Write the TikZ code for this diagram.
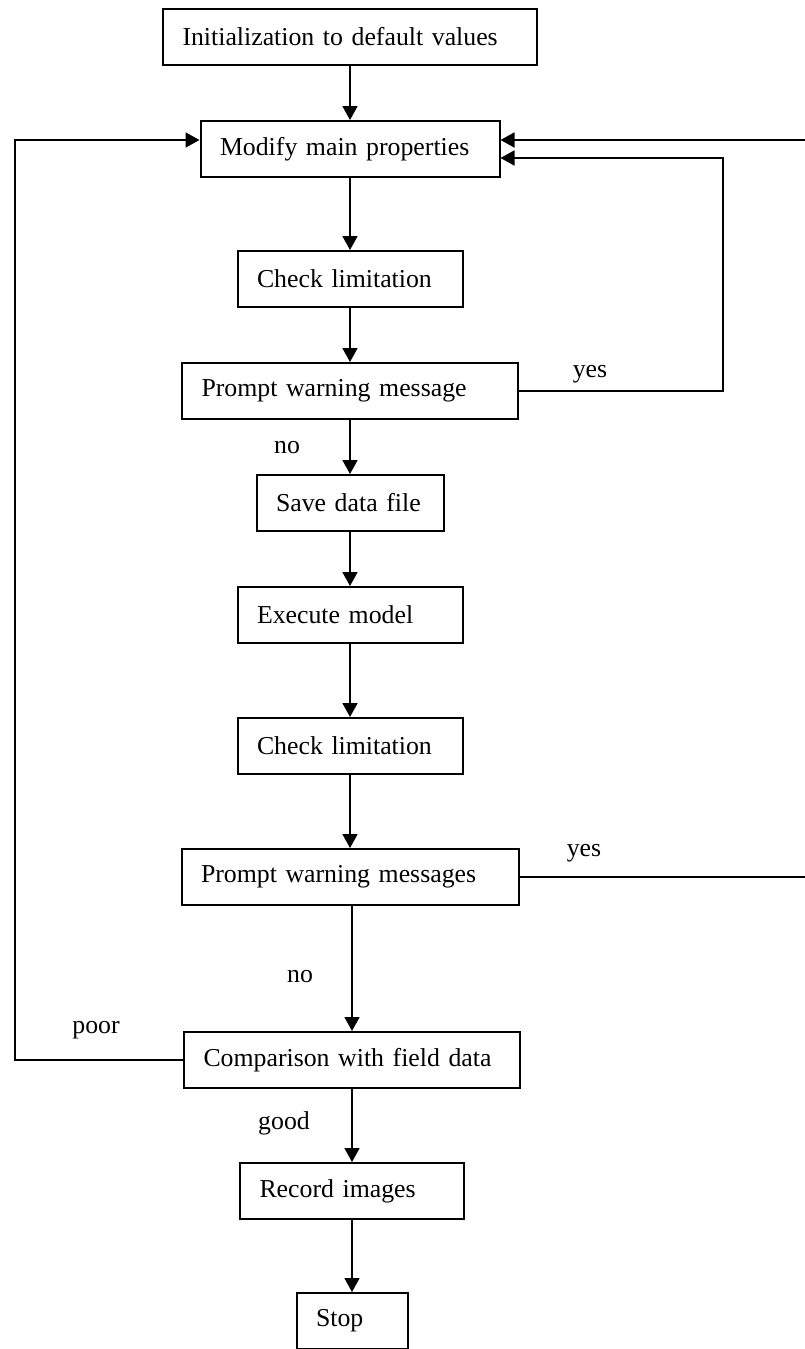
\documentclass[tikz,border=0pt]{standalone}
\usepackage{fontspec}
\setmainfont{Liberation Serif}
\usetikzlibrary{arrows.meta,calc}
\begin{document}
\begin{tikzpicture}[x=1pt,y=-1pt,
  box/.style={draw=black, line width=2pt, rectangle, minimum height=56pt,
    inner xsep=19.5pt, inner ysep=0pt, align=left,
    font=\fontsize{25.8}{30}\selectfont},
  conn/.style={line width=1.8pt, -{Triangle[length=14pt,width=15pt]}},
  lbl/.style={anchor=base, inner sep=0pt, font=\fontsize{25.8}{30}\selectfont}]
\useasboundingbox (0,0) rectangle (805,1349);
% boxes
\node[box, text width=335pt] (b1) at (350,36.5) {Initialization to default values};
\node[box, text width=260pt] (b2) at (350,149) {Modify main properties};
\node[box, text width=186pt] (b3) at (350,279) {Check limitation};
\node[box, text width=297pt] (b4) at (350,391) {Prompt warning message};
\node[box, text width=148pt] (b5) at (350,503) {Save data file};
\node[box, text width=186pt] (b6) at (350,615) {Execute model};
\node[box, text width=186pt] (b7) at (350,746) {Check limitation};
\node[box, text width=298pt] (b8) at (350,877) {Prompt warning messages};
\node[box, text width=297pt] (b9) at (352,1060) {Comparison with field data};
\node[box, text width=185pt] (b10) at (352,1191) {Record images};
\node[box, text width=72pt] (b11) at (352,1321) {Stop};
% straight connectors
\draw[conn] (b1.south) -- (b1.south |- b2.north);
\draw[conn] (b2.south) -- (b2.south |- b3.north);
\draw[conn] (b3.south) -- (b3.south |- b4.north);
\draw[conn] (b4.south) -- (b4.south |- b5.north);
\draw[conn] (b5.south) -- (b5.south |- b6.north);
\draw[conn] (b6.south) -- (b6.south |- b7.north);
\draw[conn] (b7.south) -- (b7.south |- b8.north);
\draw[conn] (b9.north |- b8.south) -- (b9.north);
\draw[conn] (b9.south) -- (b9.south |- b10.north);
\draw[conn] (b10.south) -- (b10.south |- b11.north);
% loop coordinates
\coordinate (y1) at (723,391);
\coordinate (y1t) at (723,158);
\coordinate (y2) at (805.8,877);
\coordinate (y2t) at (805.8,140);
\coordinate (p1) at (15,1060);
\coordinate (p1t) at (15,140);
% yes loop 1
\draw[conn] (b4.east) -- (y1) -- (y1t) -- (b2.east |- y1t);
% yes loop 2
\draw[conn] (b8.east) -- (y2) -- (y2t) -- (b2.east |- y2t);
% poor loop
\draw[conn] (b9.west) -- (p1) -- (p1t) -- (b2.west |- p1t);
% labels
\node[lbl] (lyes1) at (590,377) {yes};
\node[lbl] (lyes2) at (584,856) {yes};
\node[lbl] (lno1) at (287,453) {no};
\node[lbl] (lno2) at (300,982) {no};
\node[lbl] (lgood) at (284,1129) {good};
\node[lbl] (lpoor) at (96,1033) {poor};
\end{tikzpicture}
\end{document}
